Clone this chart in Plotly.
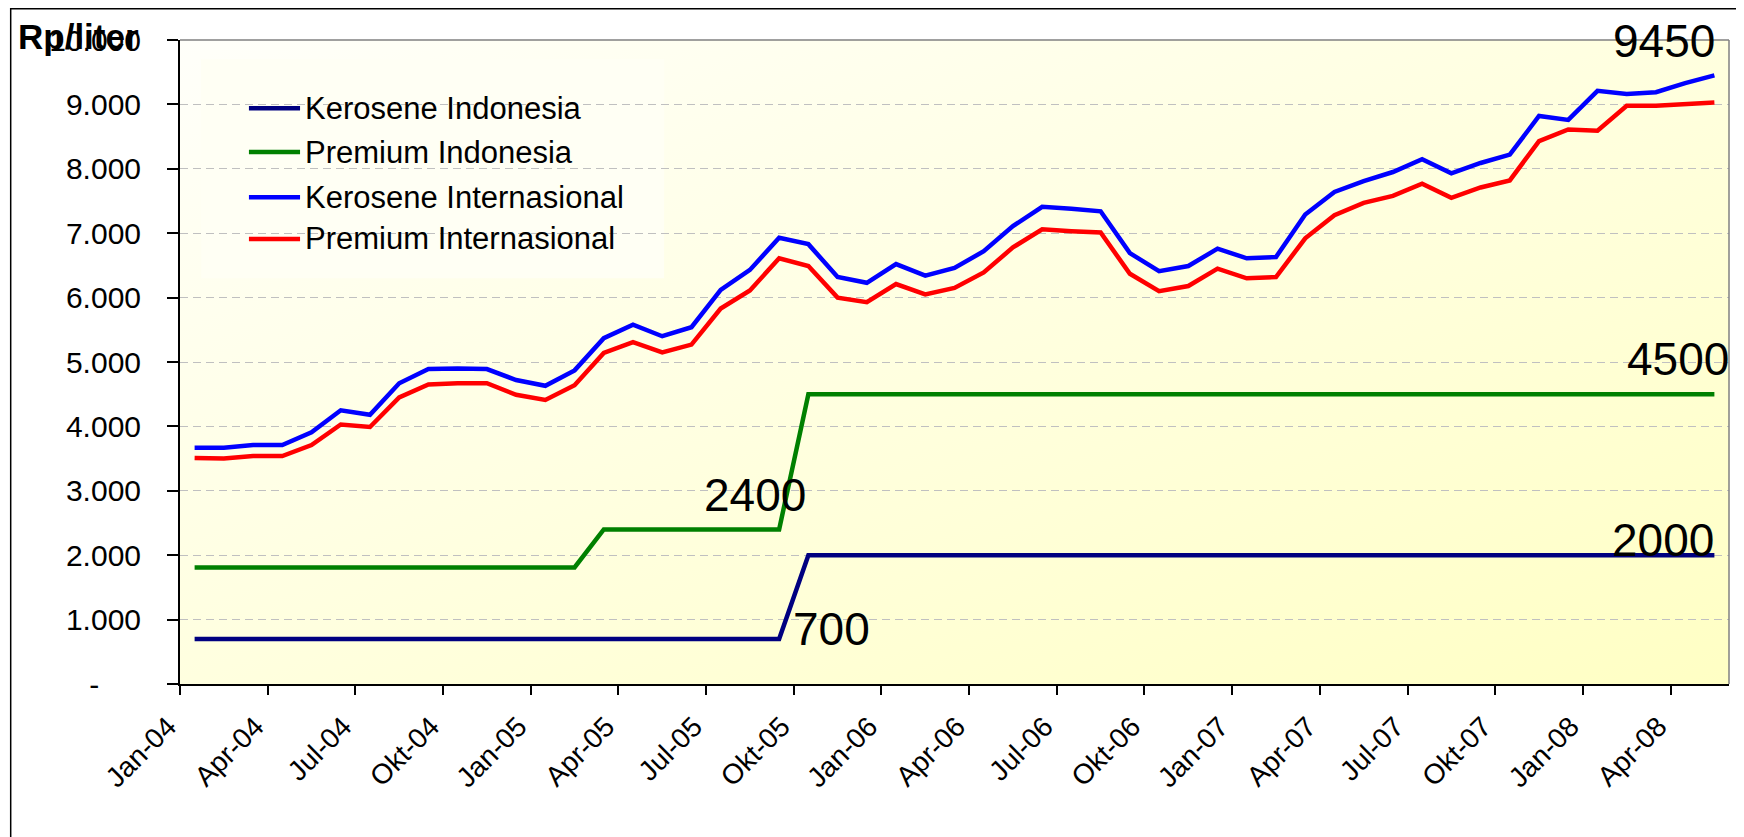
import base64
import plotly.graph_objects as go

# Bulan (Jan-04 .. Mei-08)
bulan = [
    "Jan-04", "Feb-04", "Mar-04", "Apr-04", "Mei-04", "Jun-04", "Jul-04", "Agu-04", "Sep-04", "Okt-04", "Nov-04", "Des-04",
    "Jan-05", "Feb-05", "Mar-05", "Apr-05", "Mei-05", "Jun-05", "Jul-05", "Agu-05", "Sep-05", "Okt-05", "Nov-05", "Des-05",
    "Jan-06", "Feb-06", "Mar-06", "Apr-06", "Mei-06", "Jun-06", "Jul-06", "Agu-06", "Sep-06", "Okt-06", "Nov-06", "Des-06",
    "Jan-07", "Feb-07", "Mar-07", "Apr-07", "Mei-07", "Jun-07", "Jul-07", "Agu-07", "Sep-07", "Okt-07", "Nov-07", "Des-07",
    "Jan-08", "Feb-08", "Mar-08", "Apr-08", "Mei-08",
]
tick_bulan = ["Jan-04", "Apr-04", "Jul-04", "Okt-04", "Jan-05", "Apr-05", "Jul-05", "Okt-05", "Jan-06",
              "Apr-06", "Jul-06", "Okt-06", "Jan-07", "Apr-07", "Jul-07", "Okt-07", "Jan-08", "Apr-08"]

# Harga (Rp/liter)
kerosene_indonesia = [
    700, 700, 700, 700, 700, 700, 700, 700, 700, 700, 700, 700,
    700, 700, 700, 700, 700, 700, 700, 700, 700, 2000, 2000, 2000,
    2000, 2000, 2000, 2000, 2000, 2000, 2000, 2000, 2000, 2000, 2000, 2000,
    2000, 2000, 2000, 2000, 2000, 2000, 2000, 2000, 2000, 2000, 2000, 2000,
    2000, 2000, 2000, 2000, 2000,
]
premium_indonesia = [
    1810, 1810, 1810, 1810, 1810, 1810, 1810, 1810, 1810, 1810, 1810, 1810,
    1810, 1810, 2400, 2400, 2400, 2400, 2400, 2400, 2400, 4500, 4500, 4500,
    4500, 4500, 4500, 4500, 4500, 4500, 4500, 4500, 4500, 4500, 4500, 4500,
    4500, 4500, 4500, 4500, 4500, 4500, 4500, 4500, 4500, 4500, 4500, 4500,
    4500, 4500, 4500, 4500, 4500,
]
kerosene_internasional = [
    3670, 3670, 3710, 3710, 3910, 4250, 4180, 4670, 4890, 4900, 4890, 4720,
    4630, 4870, 5370, 5580, 5400, 5540, 6120, 6430, 6930, 6830, 6320, 6230,
    6520, 6340, 6460, 6720, 7110, 7410, 7380, 7340, 6690, 6410, 6490, 6760,
    6610, 6630, 7290, 7640, 7810, 7950, 8150, 7930, 8090, 8220, 8820, 8760,
    9210, 9160, 9190, 9330, 9450,
]
premium_internasional = [
    3510, 3500, 3540, 3540, 3710, 4030, 3990, 4450, 4650, 4670, 4670, 4490,
    4410, 4640, 5140, 5310, 5150, 5270, 5830, 6110, 6610, 6490, 6000, 5930,
    6210, 6050, 6150, 6390, 6780, 7060, 7030, 7010, 6370, 6100, 6180, 6450,
    6300, 6320, 6920, 7280, 7470, 7580, 7770, 7550, 7710, 7820, 8430, 8610,
    8590, 8980, 8980, 9000, 9030,
]

y_ticks = [0, 1000, 2000, 3000, 4000, 5000, 6000, 7000, 8000, 9000, 10000]
y_ticktext = ["-" + "\u00a0" * 5, "1.000", "2.000", "3.000", "4.000", "5.000",
              "6.000", "7.000", "8.000", "9.000", "10.000"]

x = list(range(len(bulan)))
tick_pos = [bulan.index(t) - 0.5 for t in tick_bulan]

series = [
    ("Kerosene Indonesia", kerosene_indonesia, "#000080"),
    ("Premium Indonesia", premium_indonesia, "#008000"),
    ("Kerosene Internasional", kerosene_internasional, "#0000FF"),
    ("Premium Internasional", premium_internasional, "#FF0000"),
]

FONT = "Liberation Sans, Arial, sans-serif"

fig = go.Figure()
for nama, nilai, warna in series:
    fig.add_trace(go.Scatter(
        x=x, y=nilai, name=nama, mode="lines",
        line={"color": warna, "width": 4.5},
        customdata=bulan,
        hovertemplate="%{customdata}: %{y}<extra>" + nama + "</extra>",
    ))

# latar gradasi kuning di area plot
svg = (
    '<svg xmlns="http://www.w3.org/2000/svg" width="100" height="100" preserveAspectRatio="none">'
    '<defs><linearGradient id="g" x1="0" y1="0" x2="1" y2="1">'
    '<stop offset="0" stop-color="#FFFFFA"/><stop offset="1" stop-color="#FFFFC4"/>'
    '</linearGradient></defs><rect width="100" height="100" fill="url(#g)"/></svg>'
)
bg_src = "data:image/svg+xml;base64," + base64.b64encode(svg.encode()).decode()

shapes = [
    # kotak legenda menutupi garis grid
    {"type": "rect", "xref": "paper", "yref": "paper", "x0": 0.0136, "x1": 0.3125, "y0": 0.63, "y1": 0.97,
     "fillcolor": "#FFFFF4", "line": {"width": 0}, "layer": "between"},
    # bingkai area plot (atas & kanan)
    {"type": "line", "xref": "paper", "yref": "paper", "x0": 0, "x1": 1, "y0": 1, "y1": 1,
     "line": {"color": "#808080", "width": 1.5}},
    {"type": "line", "xref": "paper", "yref": "paper", "x0": 1, "x1": 1, "y0": 0, "y1": 1,
     "line": {"color": "#808080", "width": 1.5}},
    # bingkai luar grafik
    {"type": "rect", "xref": "paper", "yref": "paper", "x0": -0.1093, "x1": 1.0084, "y0": -0.3, "y1": 1.0485,
     "line": {"color": "#000000", "width": 1.5}},
]

# legenda manual
legend_y = [0.894, 0.826, 0.756, 0.691]
annotations = []
for (nama, nilai, warna), ly in zip(series, legend_y):
    shapes.append({"type": "line", "xref": "paper", "yref": "paper", "x0": 0.0445, "x1": 0.0775,
                   "y0": ly, "y1": ly, "line": {"color": warna, "width": 4.5}})
    annotations.append({"text": nama, "xref": "paper", "yref": "paper", "x": 0.0795, "y": ly,
                        "xanchor": "left", "yanchor": "middle", "showarrow": False,
                        "font": {"size": 31, "color": "black"}})

# label nilai
label_font = {"size": 46, "color": "black"}
annotations += [
    {"text": "9450", "x": 52.1, "y": 9990, "xanchor": "right", "yanchor": "middle", "showarrow": False, "font": label_font},
    {"text": "4500", "x": 52.45, "y": 5040, "xanchor": "right", "yanchor": "middle", "xshift": 3,
     "showarrow": False, "font": label_font},
    {"text": "2000", "x": 52.05, "y": 2230, "xanchor": "right", "yanchor": "middle", "showarrow": False, "font": label_font},
    {"text": "2400", "x": 19.18, "y": 2930, "xanchor": "center", "yanchor": "middle", "showarrow": False, "font": label_font},
    {"text": "700", "x": 21.8, "y": 850, "xanchor": "center", "yanchor": "middle", "showarrow": False, "font": label_font},
    {"text": "<b>Rp/liter</b>", "xref": "paper", "yref": "paper", "x": -0.106, "y": 1.005,
     "xanchor": "left", "yanchor": "middle", "showarrow": False, "font": {"size": 35, "color": "black"}},
]

# halaman html punya margin body 8px, jadi area plot digeser 8px ke kiri-atas
fig.update_layout(
    width=1744, height=837,
    margin={"l": 172, "r": 23, "t": 32, "b": 161, "autoexpand": False},
    paper_bgcolor="white",
    plot_bgcolor="#FFFFE8",
    font={"family": FONT, "size": 26, "color": "black"},
    showlegend=False,
    hovermode="closest",
    shapes=shapes,
    annotations=annotations,
    images=[{"source": bg_src, "xref": "paper", "yref": "paper", "x": 0, "y": 1, "sizex": 1, "sizey": 1,
             "sizing": "stretch", "xanchor": "left", "yanchor": "top", "layer": "below"}],
    xaxis={
        "range": [-0.5, 52.5], "tickmode": "array", "tickvals": tick_pos, "ticktext": tick_bulan,
        "tickangle": -45, "ticks": "outside", "ticklen": 9, "tickcolor": "black", "tickwidth": 1.5,
        "showline": True, "linecolor": "black", "linewidth": 2, "showgrid": False, "zeroline": False,
        "tickfont": {"size": 28}, "ticklabelshift": -12, "ticklabelstandoff": 4, "automargin": False,
    },
    yaxis={
        "range": [0, 10000], "tickmode": "array", "tickvals": y_ticks, "ticktext": y_ticktext,
        "ticks": "outside", "ticklen": 11, "tickcolor": "black", "tickwidth": 1.5,
        "showline": True, "linecolor": "black", "linewidth": 2, "zeroline": False,
        "showgrid": True, "gridcolor": "#C0C0C0", "griddash": "8px,5px", "gridwidth": 1,
        "tickfont": {"size": 30}, "ticklabelstandoff": 20, "automargin": False,
    },
)

fig.write_html("out.html")
